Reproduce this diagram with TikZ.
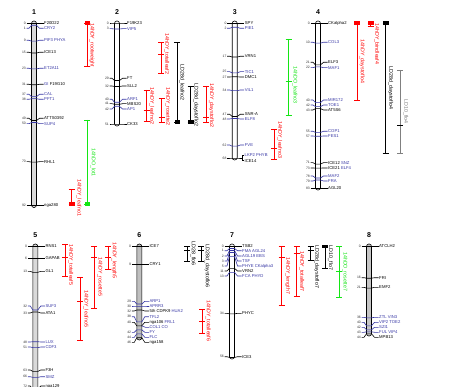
\documentclass[tikz,border=0pt]{standalone}
\usepackage{fontspec}
\setmainfont{Liberation Sans}
\definecolor{mblue}{RGB}{55,55,165}
\definecolor{qred}{RGB}{255,0,0}
\definecolor{qgreen}{RGB}{20,230,20}
\tikzset{
  mkl/.style={line width=0.6pt},
  num/.style={font=\fontsize{3.4}{4}\selectfont, anchor=east, inner sep=0pt, text=black!80},
  lab/.style={font=\fontsize{4.2}{5}\selectfont, anchor=west, inner sep=0pt},
  qt/.style={font=\fontsize{5.3}{6}\selectfont, rotate=-90, inner sep=0pt},
  qb/.style={line width=0.8pt},
  chrs/.style={draw=black, line width=0.6pt, rounded corners=2.4pt},
  cn/.style={font=\bfseries\fontsize{7}{8}\selectfont, inner sep=0pt}
}
\newcommand\mk[7]{%
  \draw[mkl,#7] ({#2-7.5},#4) -- ({#2-5},#4) -- ({#2-2.5},#3) -- ({#2+2.5},#3) -- ({#2+5.5},#4) -- ({#2+9.5},#4);
  \node[num] (#1n) at ({#2-8},#4) {#5};
  \node[lab,text=#7] (#1) at ({#2+10},#4) {#6};
}
\newcommand\qbar[5]{%
  \draw[qb,#2] (#3,#4) -- (#3,#5);
  \draw[qb,#2] ({#3-3},#4) -- ({#3+3},#4);
  \draw[qb,#2] ({#3-3},#5) -- ({#3+3},#5);
  \coordinate (#1) at (#3,#4);
}
\newcommand\qmid[3]{\draw[qb,#1] ({#2-3},#3) -- ({#2+3},#3);}
\newcommand\qsq[3]{\fill[#1] ({#2-2.8},{#3-1.8}) rectangle ({#2+2.8},{#3+1.8});}
\newcommand\qtxt[5]{\node[qt,text=#2] (#1) at (#3,#4) {#5};}
\newcommand\chrom[6]{%
  \draw[chrs,fill=#6] ({#2-2.5},#3) rectangle ({#2+2.5},#4);
  \node[cn] (#1) at (#2,{#3-8.5}) {#5};
}
\begin{document}
\begin{tikzpicture}[x=1pt,y=-1pt]
\useasboundingbox (0,0) rectangle (460,387);
\fill[white] (0,0) rectangle (460,387);
\clip (0,0) rectangle (460,387);
% ---------- chromosomes
\chrom{c1}{34}{21}{207.5}{1}{gray!30}
\chrom{c2}{117}{21}{126}{2}{white}
\chrom{c3}{234.7}{21}{160}{3}{white}
\chrom{c4}{318}{21}{190}{4}{white}
\chrom{c5}{35.3}{244}{396}{5}{gray!30}
\chrom{c6}{139.3}{244}{340}{6}{gray!50}
\chrom{c7}{232}{244}{359}{7}{white}
\chrom{c8}{369}{244}{336}{8}{gray!45}
% ---------- chr 1
\mk{a0}{34}{23.3}{23.3}{0}{F20D22}{black}
\mk{a1}{34}{25.3}{28.3}{1}{CRY2}{mblue}
\mk{a9}{34}{41.1}{40.3}{9}{PIF3 PHYA}{mblue}
\mk{a15}{34}{53.0}{52.3}{15}{ICE13}{black}
\mk{a23}{34}{68.9}{68.3}{23}{ET2A11}{mblue}
\mk{a31}{34}{84.8}{84.3}{31}{\textcolor{mblue}{GI} F19G10}{black}
\mk{a37}{34}{96.7}{94.3}{37}{CAL}{mblue}
\mk{a38}{34}{98.7}{99.3}{38}{PFT1}{mblue}
\mk{a49}{34}{120.5}{118.3}{49}{ATTS0392}{black}
\mk{a50}{34}{122.5}{123.7}{50}{SUP4}{mblue}
\mk{a70}{34}{162.1}{161.7}{70}{RHL1}{black}
\mk{a92}{34}{205.7}{205.7}{92}{nga280}{black}
% ---------- chr 2
\mk{b0}{117}{23}{23}{0}{F19K23}{black}
\mk{b3}{117}{29}{28.7}{3}{VIP5}{mblue}
\mk{b29}{117}{80.5}{78.3}{29}{FT}{black}
\mk{b32}{117}{86.5}{86}{32}{SLL2}{black}
\mk{b40}{117}{102.3}{99.3}{40}{ARF1}{mblue}
\mk{b41}{117}{104.3}{103.7}{41}{MBS20}{black}
\mk{b42}{117}{106.3}{109}{42}{AP1}{mblue}
\mk{b51}{117}{124}{124}{51}{CK33}{black}
% ---------- chr 3
\mk{c0m}{234.7}{23.3}{23.3}{0}{SPY}{black}
\mk{c2m}{234.7}{27.3}{28.3}{2}{PIE1}{mblue}
\mk{c17}{234.7}{57}{56.3}{17}{VRN1}{black}
\mk{c25}{234.7}{72.9}{71.7}{25}{TIC1}{mblue}
\mk{c27}{234.7}{76.8}{77}{27}{DMC1}{black}
\mk{c34}{234.7}{90.7}{90}{34}{VIL1}{mblue}
\mk{c47}{234.7}{116.5}{114.3}{47}{SNR-A}{black}
\mk{c48}{234.7}{118.5}{119}{48}{ELF8}{mblue}
\mk{c62}{234.7}{146.2}{145}{62}{FVE}{mblue}
\draw[mkl] (227.2,158) -- (232.2,158) -- (237.2,158) -- (242.3,158);
\node[num] (c68n) at (226.7,158) {68};
\draw[mkl] (244,155) -- (242.3,155) -- (242.3,160.7) -- (244,160.7);
\node[lab,text=mblue] (c68a) at (244.5,155) {LKP2 PHYB};
\node[lab] (c68b) at (244.5,160.7) {ICE14};
% ---------- chr 4
\mk{d0}{318}{23.3}{23.3}{0}{CKalpha2}{black}
\mk{d10}{318}{43.1}{42.3}{10}{COL3}{mblue}
\mk{d21}{318}{64.9}{62.3}{21}{ELF3}{black}
\mk{d22}{318}{66.9}{67.7}{22}{MAF1}{mblue}
\mk{d40}{318}{102.6}{100}{40}{MIR172}{mblue}
\mk{d42}{318}{106.6}{105}{42}{TOE1}{mblue}
\mk{d43}{318}{108.6}{110}{43}{AT5S6}{black}
\mk{d55}{318}{132.4}{131.3}{55}{COP1}{mblue}
\mk{d57}{318}{136.3}{136}{57}{FES1}{mblue}
\mk{d71}{318}{164.1}{162.7}{71}{ICE12 \textcolor{mblue}{SNZ}}{black}
\mk{d73}{318}{168.1}{168}{73}{ICE21 \textcolor{mblue}{ELF4}}{black}
\mk{d78}{318}{178}{176}{78}{MAF2}{mblue}
\mk{d79}{318}{180}{181}{79}{FRA}{mblue}
\mk{d83}{318}{187.9}{187.9}{83}{AGL20}{black}
% ---------- chr 5
\mk{e0}{35.3}{246.5}{246.5}{0}{RNS1}{black}
\mk{e6}{35.3}{258.4}{258.4}{6}{GAPAB}{black}
\mk{e13}{35.3}{272.3}{271.3}{13}{GL1}{black}
\mk{e32}{35.3}{310}{306}{32}{SUF3}{mblue}
\mk{e33}{35.3}{312}{313}{33}{ATA1}{black}
\mk{e48}{35.3}{341.7}{342}{48}{LUX}{mblue}
\mk{e51}{35.3}{347.6}{347}{51}{CDF3}{mblue}
\mk{e63}{35.3}{371.4}{370}{63}{F3H}{black}
\mk{e66}{35.3}{377.4}{376.7}{66}{SMZ}{mblue}
\mk{e72}{35.3}{389.3}{386}{72}{nga129}{black}
% ---------- chr 6
\mk{f0}{139.3}{246.5}{246.5}{0}{ICE7}{black}
\mk{f9}{139.3}{264.3}{264.3}{9}{CRY1}{black}
\mk{f29}{139.3}{304}{301.3}{29}{ARP1}{mblue}
\mk{f30}{139.3}{306}{306}{30}{APRR3}{mblue}
\mk{f32}{139.3}{310}{311}{32}{5th CDPK9 \textcolor{mblue}{HUA2}}{black}
\mk{f38}{139.3}{321.9}{316.7}{38}{TFL2}{mblue}
\mk{f40}{139.3}{325.8}{322.3}{40}{nga106 \textcolor{mblue}{FRL1}}{black}
\draw[mkl,mblue] (141.8,325.8) -- (145.3,327.3) -- (149.3,327.3);
\node[lab,text=mblue] (f40b) at (149.3,327.3) {COL1 CO};
\mk{f42}{139.3}{329.8}{332.3}{42}{FY}{mblue}
\mk{f44}{139.3}{333.8}{337.3}{44}{FLC}{mblue}
\mk{f46}{139.3}{337.7}{342.3}{46}{nga158}{black}
% ---------- chr 7
\mk{g0}{232}{246.5}{246.5}{0}{TSB2}{black}
\mk{g1}{232}{248.5}{250.7}{1}{FMA AGL24}{mblue}
\mk{g2}{232}{250.5}{256}{2}{AGL19 EBS}{mblue}
\mk{g3}{232}{252.5}{261}{3}{TSF}{mblue}
\mk{g5}{232}{256.4}{266}{5}{PHYE CKalpha3}{mblue}
\mk{g11}{232}{268.3}{271}{11}{VRN2}{black}
\mk{g13}{232}{272.3}{276}{13}{FCA PHYD}{mblue}
\mk{g34}{232}{313.9}{313.3}{34}{PHYC}{black}
\mk{g56}{232}{357.5}{356.7}{56}{ICE3}{black}
% ---------- chr 8
\mk{h0}{369}{246.5}{246.5}{0}{ATCLH2}{black}
\mk{h16}{369}{278.2}{277.7}{16}{FRI}{black}
\mk{h21}{369}{288.1}{287.3}{21}{EMF2}{black}
\mk{h36}{369}{317.9}{317.3}{36}{ZTL VIN3}{mblue}
\mk{h40}{369}{325.8}{322.3}{40}{VIP2 TOE2}{mblue}
\mk{h42}{369}{329.8}{327.3}{42}{SZI1}{mblue}
\mk{h43}{369}{331.8}{332.3}{43}{FUL VIP4}{mblue}
\mk{h44}{369}{333.8}{337.3}{44}{MPB13}{black}
% ---------- QTL chr 1
\qbar{q1a}{qred}{87.3}{23.3}{66.7}\qsq{qred}{87.3}{23.3}
\qtxt{t1a}{qred}{92}{45}{14hDY\_rootweight}
\qbar{q1b}{qgreen}{87.3}{120}{204.3}\qsq{qgreen}{87.3}{204.3}
\qtxt{t1b}{qgreen}{93.3}{162.5}{14hDO\_lot1}
\qbar{q1c}{qred}{71.7}{189.3}{204.3}\qsq{qred}{71.7}{204.3}
\qtxt{t1c}{qred}{79}{198}{14hDY\_leafno1}
% ---------- QTL chr 2
\qbar{q2a}{qred}{161}{42.7}{73.3}\qmid{qred}{161}{54}
\qtxt{t2a}{qred}{166.7}{54}{14hDY\_totalleaf2}
\qbar{q2b}{black}{177.3}{42.7}{122.3}\qsq{black}{177.3}{122.3}
\qtxt{t2b}{black}{182}{82.5}{LD28d\_leafno2}
\qbar{q2c}{qred}{146.7}{90}{121.7}\qmid{qred}{146.7}{110}
\qtxt{t2c}{qred}{151.7}{106}{14hDY\_leafno2}
\qbar{q2d}{qred}{161.7}{98.3}{122}\qmid{qred}{161.7}{117.3}
\qtxt{t2d}{qred}{167.7}{106.5}{14hDY\_rosette2}
\qbar{q2e}{black}{190.7}{86}{122.3}\qsq{black}{190.7}{122.3}
\qtxt{t2e}{black}{196}{105}{LD28d\_daystoflo2}
\qbar{q2f}{qred}{206}{86}{122}\qmid{qred}{206}{117.3}
\qtxt{t2f}{qred}{211.5}{105.5}{14hDY\_daystoflo2}
% ---------- QTL chr 3
\qbar{q3a}{qgreen}{288.7}{39}{115.3}\qmid{qgreen}{288.7}{81.7}
\qtxt{t3a}{qgreen}{295}{85}{14hDO\_leafno3}
\qbar{q3b}{qred}{274}{129.7}{159}\qmid{qred}{274}{148.3}
\qtxt{t3b}{qred}{279.7}{140}{14hDY\_leafno3}
% ---------- QTL chr 4
\qbar{q4a}{qred}{357}{23.3}{100.7}\qsq{qred}{357}{23.3}
\qtxt{t4a}{qred}{362.3}{61.5}{14hDY\_daystoflo4}
\qbar{q4b}{qred}{370.7}{23.3}{26.3}\qsq{qred}{370.7}{23.3}
\qtxt{t4b}{qred}{376.7}{44}{14hDY\_bindleaf4}
\qbar{q4c}{black}{385.7}{23.3}{153.3}\qsq{black}{385.7}{23.3}
\qtxt{t4c}{black}{390.7}{88}{LD28d\_daystoflo4}
\qbar{q4d}{gray}{400}{70}{153.3}\qmid{black}{400}{125.7}
\qtxt{t4d}{gray}{405.7}{111.7}{LD10\_flo4}
% ---------- QTL chr 5
\qbar{q5a}{qred}{65}{244}{276.7}\qmid{qred}{65}{257.3}
\qtxt{t5a}{qred}{70.7}{265}{14hDY\_totalleaf5}
\qbar{q5b}{qred}{80}{277.3}{340.7}\qmid{qred}{80}{301.7}
\qtxt{t5b}{qred}{86}{309}{14hDY\_leafno5}
\qbar{q5c}{qred}{94.3}{246.7}{308.3}\qmid{qred}{94.3}{257.3}
\qtxt{t5c}{qred}{100}{277}{14hDY\_rosette5}
\qbar{q5d}{qred}{108.3}{246}{269}\qmid{qred}{108.3}{257.3}
\qtxt{t5d}{qred}{114.3}{260.5}{14hDY\_length5}
% ---------- QTL chr 6
\qbar{q6a}{black}{187.3}{246.7}{261}\qmid{black}{187.3}{250}
\qtxt{t6a}{black}{193.3}{253.5}{LD28\_flo6}
\qbar{q6b}{black}{201}{246.7}{261}\qmid{black}{201}{250}
\qtxt{t6b}{black}{207.3}{266.3}{LD28d\_daystoflo6}
\qbar{q6c}{qred}{202.3}{309}{333.3}\qmid{qred}{202.3}{321}
\qtxt{t6c}{qred}{208.3}{321}{14hDY\_totalleaf6}
% ---------- QTL chr 7
\qbar{q7a}{qred}{281.7}{246.7}{305}\qmid{qred}{281.7}{257.3}
\qtxt{t7a}{qred}{287.7}{275.7}{14hDY\_length7}
\qbar{q7b}{qred}{296.7}{246.7}{296.7}\qmid{qred}{296.7}{253.3}
\qtxt{t7b}{qred}{301.7}{271.5}{14hDY\_totalleaf7}
\qbar{q7c}{black}{310.7}{246.7}{260.7}\qmid{black}{310.7}{250}
\qtxt{t7c}{black}{316.7}{266.7}{LD28d\_daystoflo7}
\qbar{q7d}{black}{325}{246.7}{268.3}\qsq{black}{325}{246.7}
\qtxt{t7d}{black}{330.5}{258}{LD10\_flo7}
\qbar{q7e}{qgreen}{339.3}{246.3}{297.3}\qmid{qgreen}{339.3}{271.7}
\qtxt{t7e}{qgreen}{345}{271.7}{14hDO\_rosette7}
\end{tikzpicture}
\end{document}
